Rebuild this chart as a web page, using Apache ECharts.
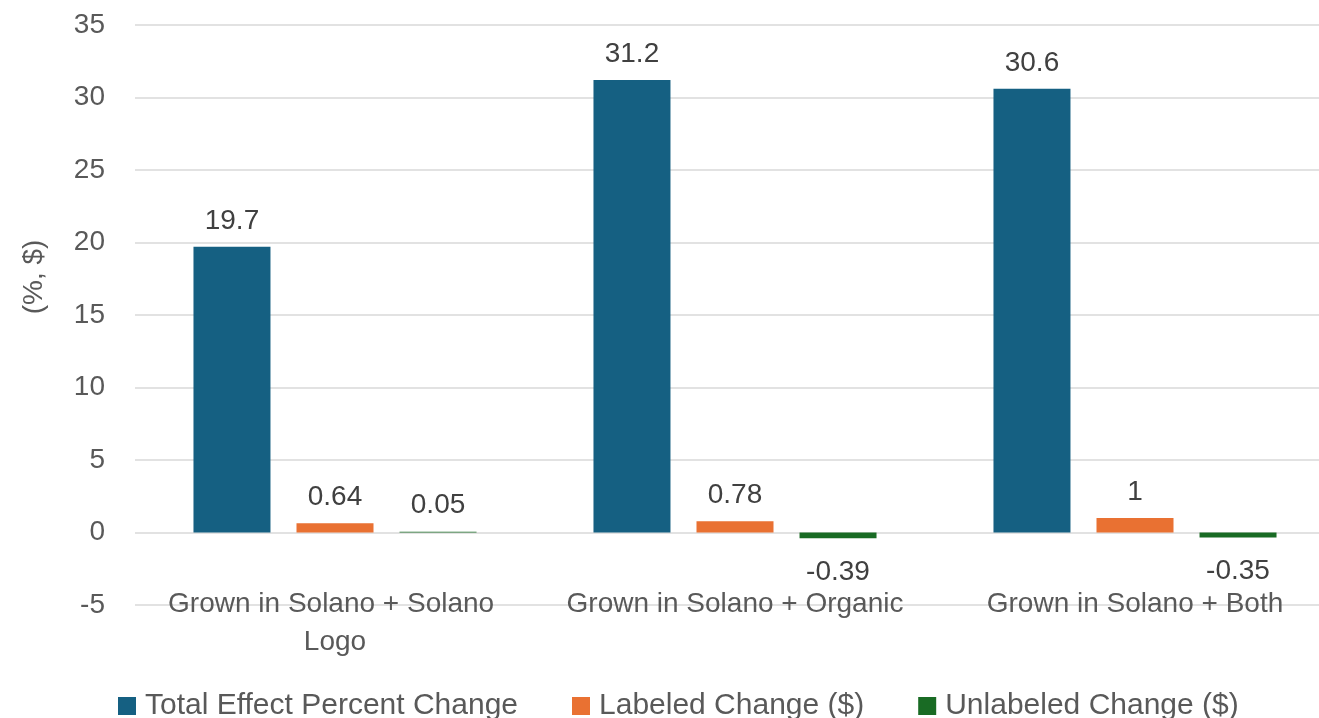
<!DOCTYPE html>
<html>
<head>
<meta charset="utf-8">
<script src="https://cdn.jsdelivr.net/npm/echarts@6/dist/echarts.min.js"></script>
<style>
  html, body { margin: 0; padding: 0; background: #ffffff; overflow: hidden; }
  #main { width: 1319px; height: 718px; }
</style>
</head>
<body>
<div id="main"></div>
<script>
// chart data
var categories = ["Grown in Solano + Solano Logo", "Grown in Solano + Organic", "Grown in Solano + Both"];
var seriesNames = ["Total Effect Percent Change", "Labeled Change ($)", "Unlabeled Change ($)"];
var totalEffect = [19.7, 31.2, 30.6];
var labeledChange = [0.64, 0.78, 1];
var unlabeledChange = [0.05, -0.39, -0.35];
var colors = ["#156082", "#E97132", "#196B24"];

var FONT = "Liberation Sans";

// negative values get their label underneath the bar
function withLabels(values) {
  return values.map(function (v) {
    return {
      value: v,
      label: v < 0 ? { position: "bottom", distance: 20 } : { position: "top", distance: 12 }
    };
  });
}

function barSeries(name, values, color) {
  return {
    name: name,
    type: "bar",
    barWidth: 77,
    barGap: "33.8%",
    itemStyle: { color: color },
    label: {
      show: true,
      fontFamily: FONT,
      fontSize: 28,
      color: "#404040"
    },
    data: withLabels(values)
  };
}

var myChart = echarts.init(document.getElementById("main"));
myChart.setOption({
  animation: false,
  color: colors,
  // plot area runs a little past the right edge, like the original
  grid: { left: 135, width: 1200, top: 25, bottom: 113, outerBoundsMode: "none" },
  legend: {
    top: 686,
    left: 113,
    itemWidth: 18,
    itemHeight: 18,
    itemGap: 54,
    icon: "rect",
    textStyle: { fontFamily: FONT, fontSize: 30, color: "#595959", padding: [0, 0, 0, 4] },
    data: seriesNames
  },
  xAxis: {
    type: "category",
    data: categories,
    axisLine: { show: false },
    axisTick: { show: false },
    axisLabel: {
      margin: -20,
      interval: 0,
      width: 370,
      overflow: "break",
      fontFamily: FONT,
      fontSize: 28,
      lineHeight: 38,
      color: "#595959"
    }
  },
  yAxis: {
    type: "value",
    min: -5,
    max: 35,
    interval: 5,
    name: "(%, $)",
    nameLocation: "middle",
    nameGap: 87,
    nameTextStyle: { fontFamily: FONT, fontSize: 28, color: "#595959", padding: [0, 0, 0, 76] },
    axisLine: { show: false },
    axisTick: { show: false },
    axisLabel: { margin: 30, fontFamily: FONT, fontSize: 28, color: "#595959" },
    splitLine: { lineStyle: { color: "#d9d9d9", width: 1.5 } }
  },
  series: [
    barSeries(seriesNames[0], totalEffect, colors[0]),
    barSeries(seriesNames[1], labeledChange, colors[1]),
    barSeries(seriesNames[2], unlabeledChange, colors[2])
  ]
});
</script>
</body>
</html>
